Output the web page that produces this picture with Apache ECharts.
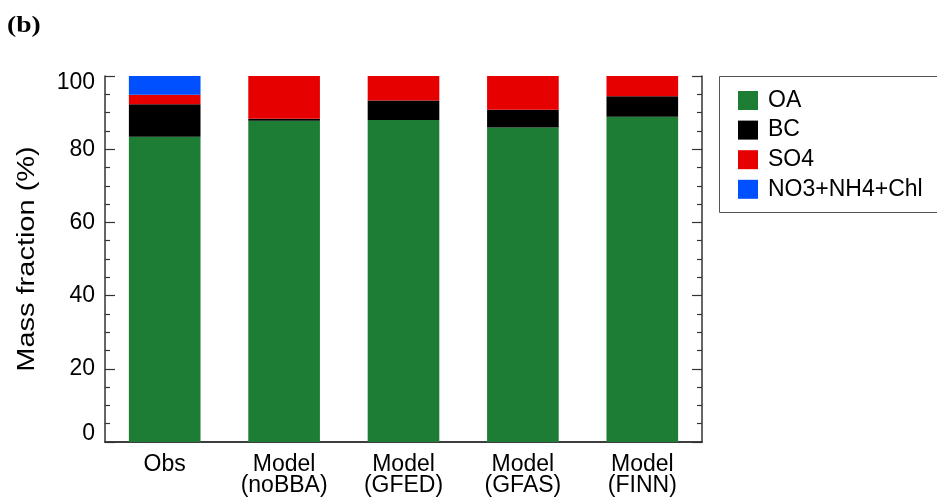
<!DOCTYPE html>
<html><head><meta charset="utf-8">
<script src="https://cdn.jsdelivr.net/npm/echarts@6/dist/echarts.min.js"></script>
<style>html,body{margin:0;padding:0;background:#fff}#c{width:937px;height:498px}</style>
</head><body><div id="c"></div>
<script>
const categories = ['Obs', 'Model\n(noBBA)', 'Model\n(GFED)', 'Model\n(GFAS)', 'Model\n(FINN)'];
const seriesNames = ['OA', 'BC', 'SO4', 'NO3+NH4+Chl'];
const oa = [83.4, 87.8, 88.0, 85.9, 88.9];
const bc = [8.9, 0.5, 5.3, 4.9, 5.6];
const so4 = [2.6, 11.7, 6.7, 9.2, 5.5];
const no3 = [5.1, 0, 0, 0, 0];
const yTicks = [0, 20, 40, 60, 80, 100];
const colors = ['#1e7d35', '#000000', '#e60000', '#0050ff'];

const font = '"Liberation Sans", Arial, sans-serif';
const chart = echarts.init(document.getElementById('c'), null, {renderer: 'canvas'});
const values = [oa, bc, so4, no3];
chart.setOption({
  animation: false,
  textStyle: {fontFamily: font},
  grid: {left: 105, top: 76, right: 235, bottom: 56, show: false},
  legend: {
    orient: 'vertical', left: 738, top: 89, itemWidth: 20, itemHeight: 19, itemGap: 6.6,
    icon: 'rect', data: seriesNames, padding: 0,
    textStyle: {fontSize: 23, color: '#000', fontFamily: font, padding: [0, 0, 0, 5]}
  },
  xAxis: [{
    type: 'category', data: categories,
    axisLine: {lineStyle: {color: '#333', width: 1.5}},
    axisTick: {show: false},
    axisLabel: {fontSize: 23, color: '#000', lineHeight: 21, margin: 12, fontFamily: font}
  }, {
    type: 'category', data: categories, position: 'top',
    axisLine: {lineStyle: {color: '#333', width: 1.5}},
    axisTick: {show: false}, axisLabel: {show: false}
  }],
  yAxis: [{
    type: 'value', min: 0, max: 100, interval: 20,
    axisLine: {show: true, lineStyle: {color: '#333', width: 1.5}},
    axisTick: {show: true, inside: true, length: 10, lineStyle: {color: '#333', width: 1.2}},
    minorTick: {show: true, splitNumber: 4, length: 5, lineStyle: {color: '#333', width: 1.2}},
    splitLine: {show: false},
    axisLabel: {fontSize: 23, color: '#000', margin: 10, fontFamily: font,
      formatter: v => !yTicks.includes(v) ? '' : v === 100 ? '{t|' + v + '}' : v === 0 ? '{b|' + v + '}' : String(v),
      rich: {
        t: {fontSize: 23, fontFamily: font, color: '#000', padding: [14, 0, 0, 0]},
        b: {fontSize: 23, fontFamily: font, color: '#000', padding: [0, 0, 16, 0]}
      }}
  }, {
    type: 'value', min: 0, max: 100, interval: 20, position: 'right',
    axisLine: {show: true, lineStyle: {color: '#333', width: 1.5}},
    axisTick: {show: true, inside: true, length: 10, lineStyle: {color: '#333', width: 1.2}},
    minorTick: {show: true, splitNumber: 4, length: 5, lineStyle: {color: '#333', width: 1.2}},
    splitLine: {show: false}, axisLabel: {show: false}
  }],
  graphic: [
    {type: 'text', x: 7, y: 14, scaleX: 1.15, style: {text: '(b)', fontSize: 24, fontWeight: 'bold', fontFamily: '"Liberation Serif", "Times New Roman", serif', fill: '#000'}},
    {type: 'text', x: 28, y: 259, rotation: Math.PI / 2, scaleX: 1.26,
      style: {text: 'Mass fraction (%)', fontSize: 23, fontFamily: font, fill: '#000', textAlign: 'center', textVerticalAlign: 'middle'}},
    {type: 'rect', shape: {x: 719.5, y: 76.5, width: 230, height: 136}, style: {fill: 'none', stroke: '#555', lineWidth: 1}}
  ],
  series: seriesNames.map((n, i) => ({
    name: n, type: 'bar', stack: 'a', barWidth: '60%', data: values[i],
    itemStyle: {color: colors[i]}
  }))
});
</script></body></html>
